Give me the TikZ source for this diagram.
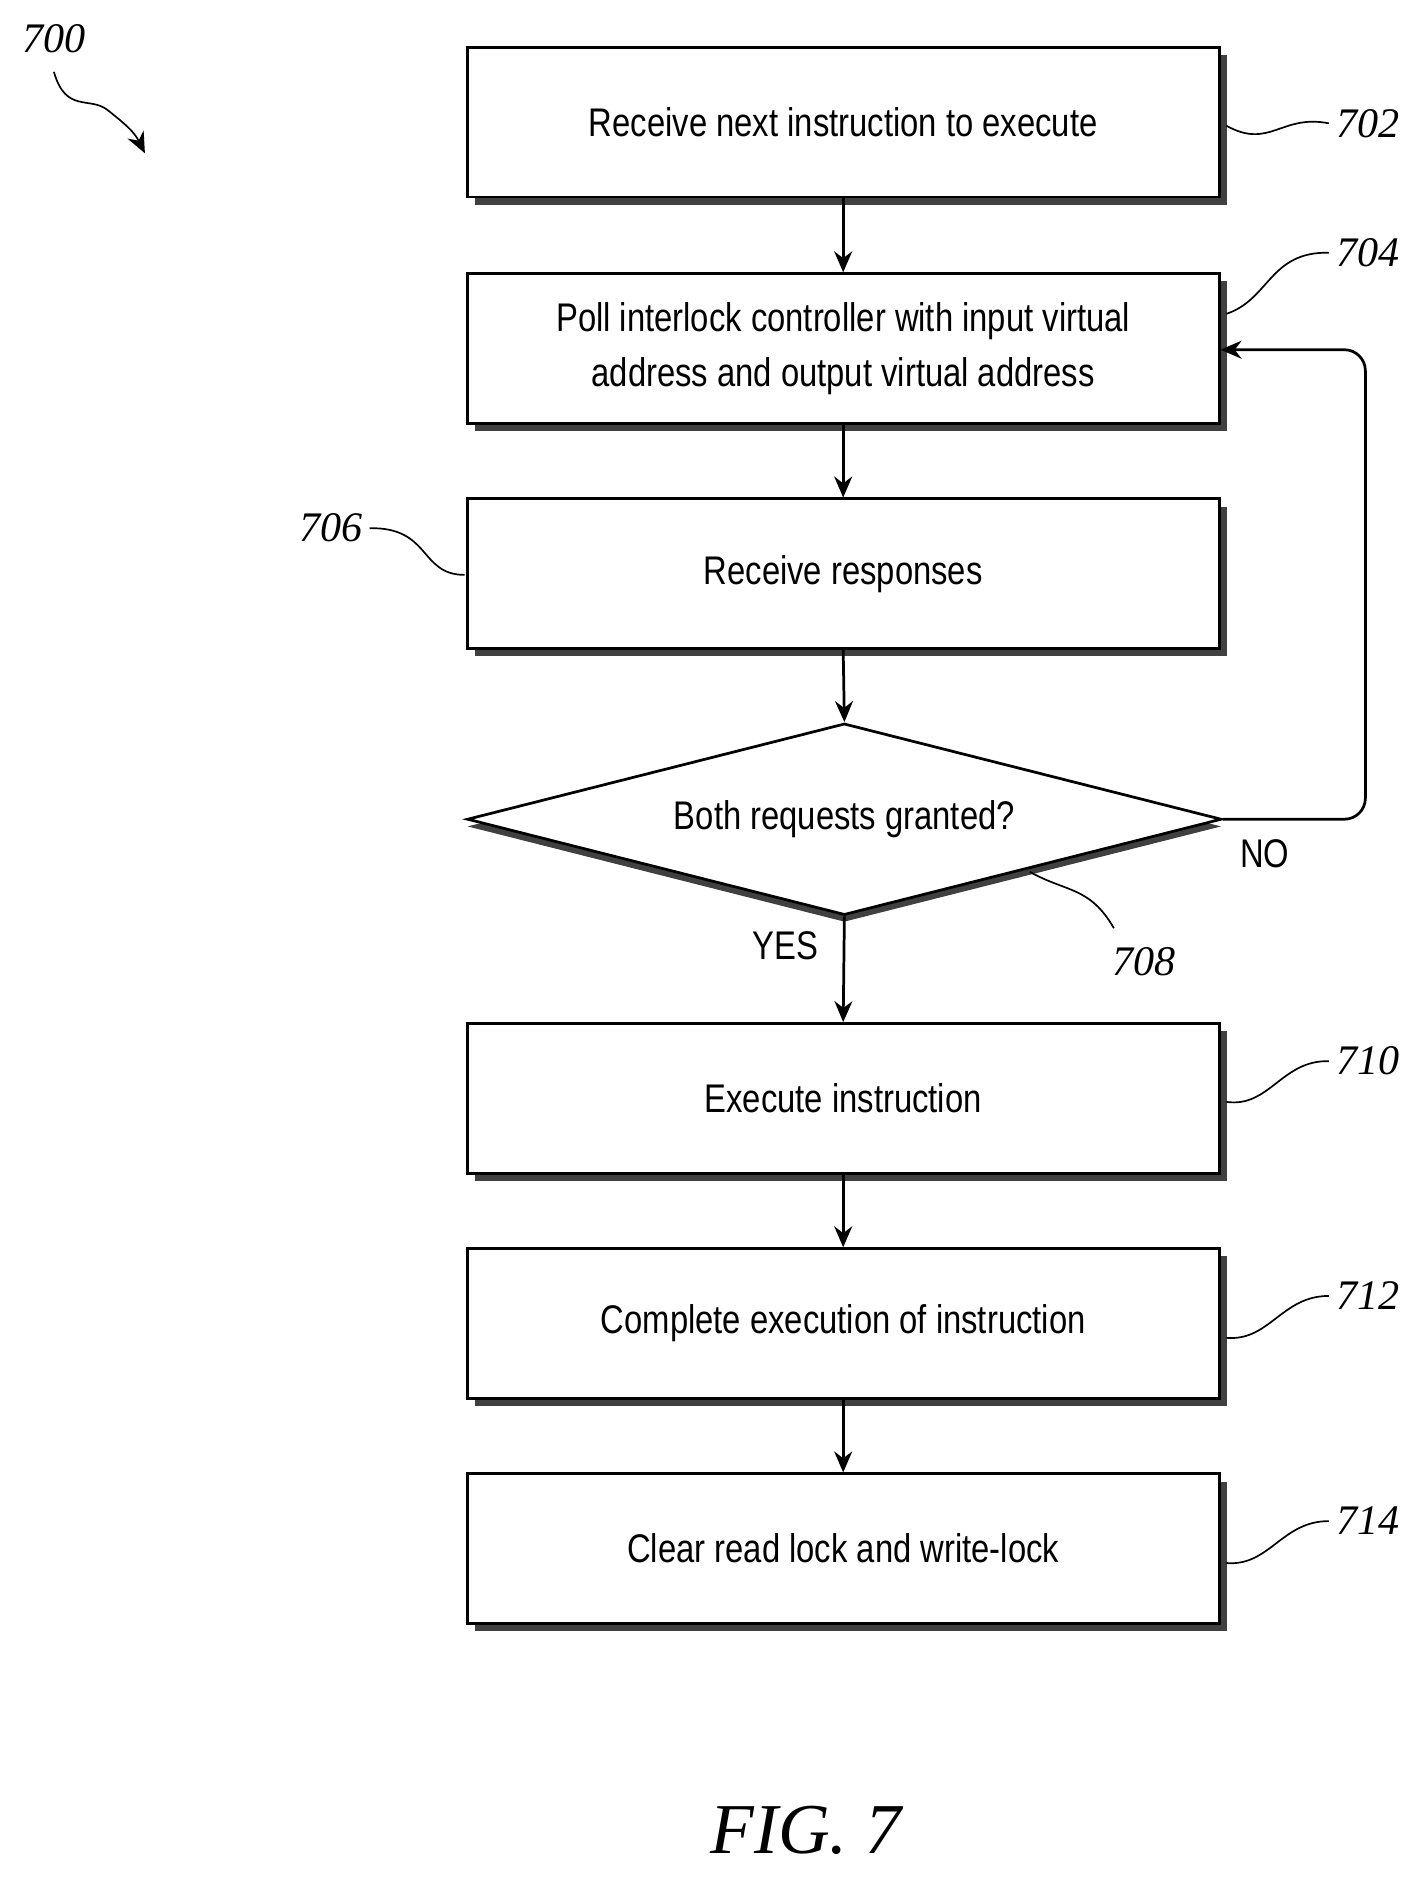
\documentclass[tikz,border=0pt]{standalone}
\usepackage{fontspec}
\setmainfont{Liberation Sans}[FakeStretch=0.82]
\newfontfamily\serifit{Liberation Serif}[Scale=1]
\usetikzlibrary{arrows.meta,shapes.geometric,shadows}
\begin{document}
\begin{tikzpicture}[x=0.02cm,y=-0.02cm,
 box/.style={draw,line width=1.3pt,fill=white,minimum width=12.56cm,minimum height=2.5cm,align=center,font=\fontsize{19}{26}\selectfont,
   drop shadow={shadow xshift=1.3mm,shadow yshift=-1.3mm,fill=black!75,opacity=1}},
 arr/.style={-{Stealth[length=3.5mm,width=3mm]},line width=1.3pt},
 lab/.style={font=\serifit\itshape\fontsize{20}{24}\selectfont},
 lead/.style={line width=0.8pt}]
\useasboundingbox (0,0) rectangle (1190,1568);
\node[box] (b702) at (704,102) {Receive next instruction to execute};
\node[box] (b704) at (704,291) {Poll interlock controller with input virtual\\address and output virtual address};
\node[box] (b706) at (704,479) {Receive responses};
\node[draw,line width=1.3pt,fill=white,diamond,aspect=3.9,minimum width=12.6cm,minimum height=3.2cm,inner sep=0pt,
  font=\fontsize{19}{26}\selectfont,drop shadow={shadow xshift=0mm,shadow yshift=-1.2mm,fill=black!75,opacity=1}] (d708) at (705,684) {Both requests granted?};
\node[box] (b710) at (704,917) {Execute instruction};
\node[box] (b712) at (704,1105) {Complete execution of instruction};
\node[box] (b714) at (704,1293) {Clear read lock and write-lock};
\draw[arr] (b702.south) -- (b704.north);
\draw[arr] (b704.south) -- (b706.north);
\draw[arr] (b706.south) -- (d708.north);
\draw[arr] (d708.south) -- (b710.north);
\draw[arr] (b710.south) -- (b712.north);
\draw[arr] (b712.south) -- (b714.north);
\coordinate (c1) at (1140,684);
\coordinate (c2) at (1140,292);
\draw[arr,rounded corners=10] (d708.east) -- (c1) -- (c2) -- (b704.east |- c2);
\node[font=\fontsize{19}{24}\selectfont] (no) at (1056,713) {NO};
\node[font=\fontsize{19}{24}\selectfont] (yes) at (656,790) {YES};
\node[lab] (l702) at (1142,103) {702};
\node[lab] (l704) at (1142,211) {704};
\node[lab] (l706) at (276,441) {706};
\node[lab] (l708) at (955,803) {708};
\node[lab] (l710) at (1142,886) {710};
\node[lab] (l712) at (1142,1082) {712};
\node[lab] (l714) at (1142,1270) {714};
\node[lab] (l700) at (45,32) {700};
\draw[lead] (1024,105) .. controls (1060,125) and (1070,95) .. (l702.west);
\draw[lead] (1024,262) .. controls (1060,250) and (1060,210) .. (l704.west);
\draw[lead] (388,480) .. controls (350,480) and (360,440) .. (l706.east);
\draw[lead] (860,728) .. controls (890,745) and (910,740) .. (930,775);
\draw[lead] (1024,920) .. controls (1060,925) and (1070,885) .. (l710.west);
\draw[lead] (1024,1117) .. controls (1060,1120) and (1070,1082) .. (l712.west);
\draw[lead] (1024,1305) .. controls (1060,1308) and (1070,1270) .. (l714.west);
\coordinate (a700) at (121,128);
\draw[lead,-{Stealth[length=3.5mm,width=3mm]}] (45,60) .. controls (55,95) and (75,80) .. (90,92) .. controls (105,104) and (112,110) .. (a700);
\node[font=\serifit\itshape\fontsize{34}{40}\selectfont] (fig) at (673,1528) {FIG. 7};
\end{tikzpicture}
\end{document}
